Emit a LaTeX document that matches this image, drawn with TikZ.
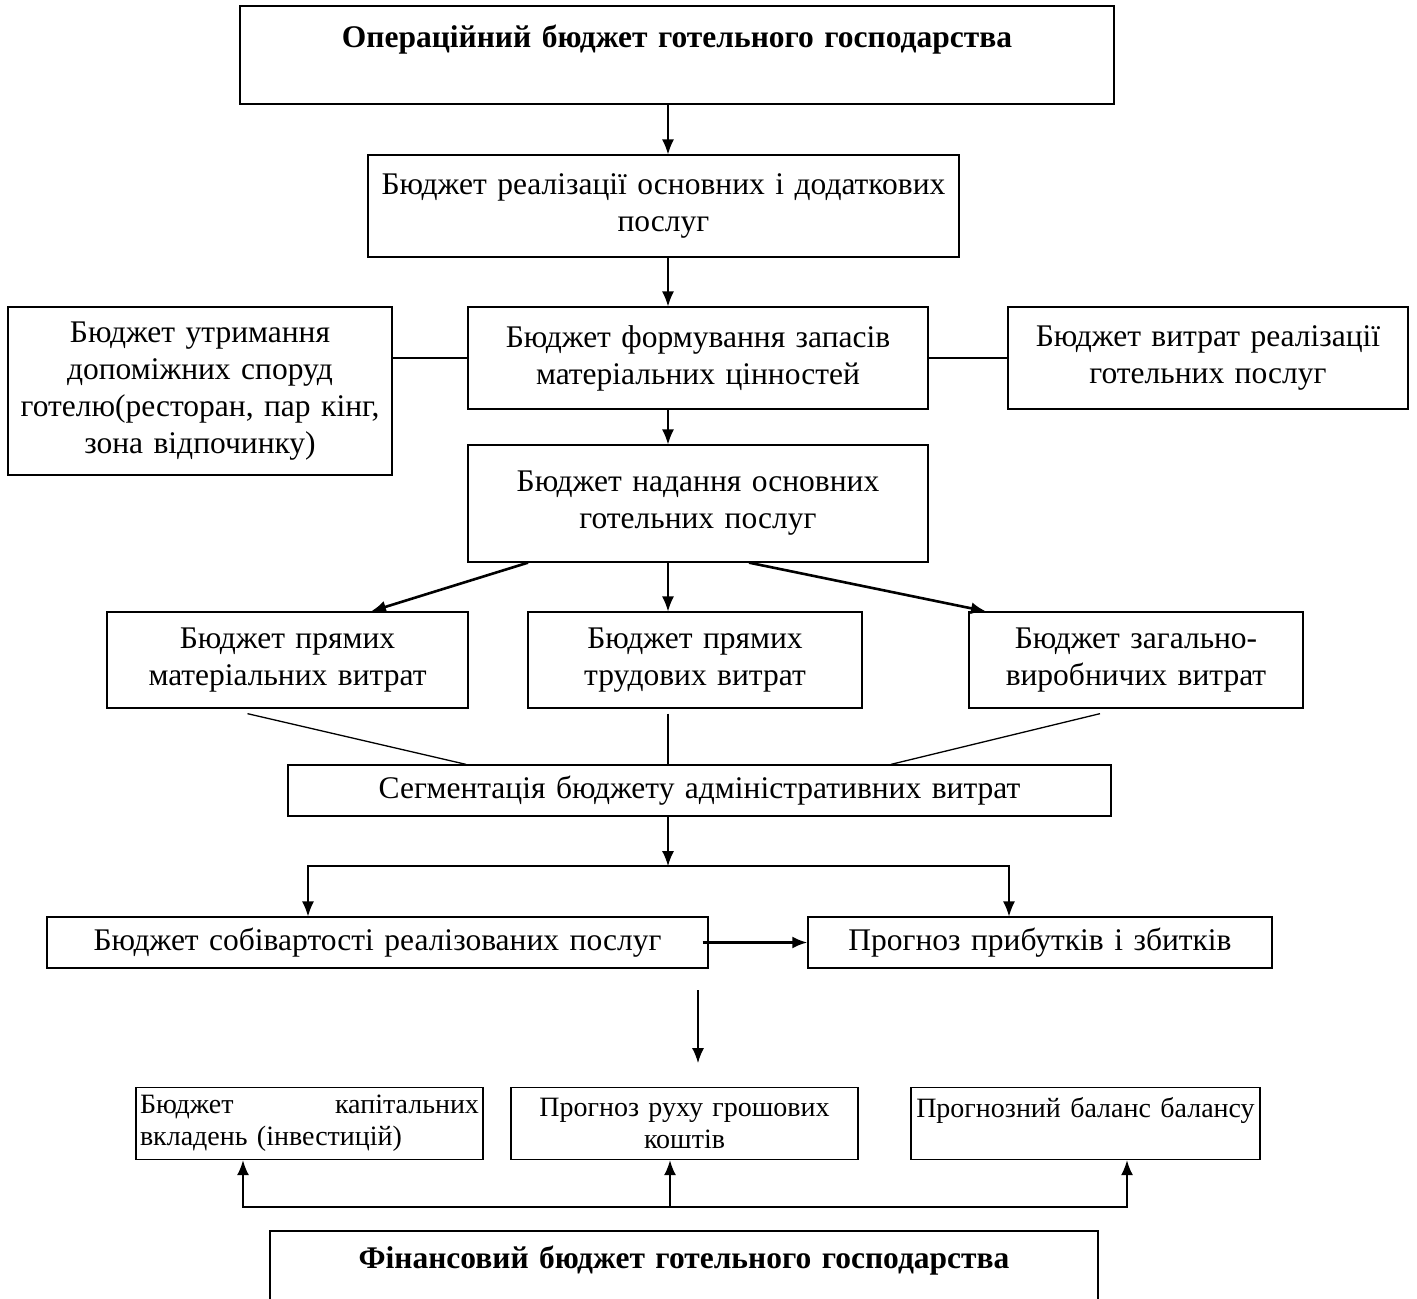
\documentclass[tikz,border=0pt]{standalone}
\usepackage{fontspec}
\setmainfont{Liberation Serif}
\usetikzlibrary{arrows.meta}

\begin{document}
\begin{tikzpicture}[x=1pt, y=-1pt,
  box/.style={draw, line width=1.3pt, align=center, inner sep=4pt, font=\fontsize{31.5}{37}\selectfont},
  boldbox/.style={box, font=\bfseries\fontsize{31.5}{37}\selectfont},
  smallbox/.style={box, inner sep=2pt, font=\fontsize{28}{32}\selectfont},
  arr/.style={-{Latex[length=15pt,width=12pt]}, line width=1.3pt},
  thickarr/.style={arr, line width=2.6pt},
  link/.style={line width=1.3pt}]
  \useasboundingbox (0,0) rectangle (1417,1299);

  % operating budget
  \node[boldbox, text width=866pt, minimum width=874pt, minimum height=98pt] (opbud) at (677,55) {Операційний бюджет готельного господарства\\\mbox{}};
  \node[box, text width=583pt, minimum width=591pt, minimum height=102pt] (sales) at (663.5,206) {Бюджет реалізації основних і додаткових\\послуг};
  \node[box, text width=376pt, minimum width=384pt, minimum height=168pt] (aux) at (200,391) {Бюджет утримання\\допоміжних споруд\\готелю(ресторан, пар кінг,\\зона відпочинку)};
  \node[box, text width=452pt, minimum width=460pt, minimum height=102pt] (stock) at (698,358) {Бюджет формування запасів\\матеріальних цінностей};
  \node[box, text width=392pt, minimum width=400pt, minimum height=102pt] (selling) at (1208,358) {Бюджет витрат реалізації\\готельних послуг};
  \node[box, text width=452pt, minimum width=460pt, minimum height=117pt] (basic) at (698,503.5) {Бюджет надання основних\\готельних послуг};
  \node[box, text width=353pt, minimum width=361pt, minimum height=96pt] (dmat) at (287.5,660) {Бюджет прямих\\матеріальних витрат};
  \node[box, text width=326pt, minimum width=334pt, minimum height=96pt] (dlab) at (695,660) {Бюджет прямих\\трудових витрат};
  \node[box, text width=326pt, minimum width=334pt, minimum height=96pt] (ovh) at (1136,660) {Бюджет загально-\\виробничих витрат};
  \node[box, text width=815pt, minimum width=823pt, minimum height=51pt] (admin) at (699.5,790.5) {Сегментація бюджету адміністративних витрат};
  \node[box, text width=653pt, minimum width=661pt, minimum height=51pt] (cogs) at (377.5,942.5) {Бюджет собівартості реалізованих послуг};
  \node[box, text width=456pt, minimum width=464pt, minimum height=51pt] (pnl) at (1040,942.5) {Прогноз прибутків і збитків};

  % financial budget
  \node[smallbox, inner sep=4pt, align=left, text width=339pt, minimum width=347pt, minimum height=72pt] (capex) at (309.5,1123.5) {\hbox to 339pt{Бюджет\hfill капітальних}\\вкладень (інвестицій)};
  \node[smallbox, text width=343pt, minimum width=347pt, minimum height=72pt] (cash) at (684.5,1123.5) {Прогноз руху грошових\\коштів};
  \node[smallbox, text width=345pt, minimum width=349pt, minimum height=72pt] (balance) at (1085.5,1123.5) {Прогнозний баланс балансу\\\mbox{}};
  \node[boldbox, text width=820pt, minimum width=828pt, minimum height=126pt] (finbud) at (684,1294) {Фінансовий бюджет готельного господарства\\\mbox{}\\\mbox{}};

  \coordinate (axis) at (668,0);
  \coordinate (split) at (668,866);
  \coordinate (gaptop) at (698,990);
  \coordinate (gapbot) at (698,1063);
  \coordinate (finsplit) at (670,1207);

  \draw[arr] (axis |- opbud.south) -- (axis |- sales.north);
  \draw[arr] (axis |- sales.south) -- (axis |- stock.north);
  \draw[link] (stock.west) -- (stock.west -| aux.east);
  \draw[link] (stock.east) -- (stock.east -| selling.west);
  \draw[arr] (axis |- stock.south) -- (axis |- basic.north);
  \draw[thickarr] ([xshift=-170pt]basic.south) -- ([xshift=83.5pt]dmat.north);
  \draw[arr] (axis |- basic.south) -- (axis |- dlab.north);
  \draw[thickarr] ([xshift=51pt]basic.south) -- ([xshift=-150pt]ovh.north);
  \draw[link] ([shift={(-40,5)}]dmat.south) -- ([xshift=-233.5pt]admin.north);
  \draw[link] (axis |- dlab.south) ++(0,5) -- (axis |- admin.north);
  \draw[link] ([shift={(-36,5)}]ovh.south) -- ([xshift=191.5pt]admin.north);
  \draw[arr] (axis |- admin.south) -- (split);
  \draw[arr] (split) -| ([xshift=-69.5pt]cogs.north);
  \draw[arr] (split) -| ([xshift=-31pt]pnl.north);
  \draw[thickarr] ([xshift=-6pt]cogs.east) -- (pnl.west);
  \draw[arr] (gaptop) -- (gapbot);
  \draw[arr, line width=1.8pt] (finsplit) -| ([xshift=-66.5pt]capex.south);
  \draw[arr, line width=1.8pt] (finsplit) -- (finsplit |- cash.south);
  \draw[arr, line width=1.8pt] (finsplit) -| ([xshift=41.5pt]balance.south);
\end{tikzpicture}
\end{document}
